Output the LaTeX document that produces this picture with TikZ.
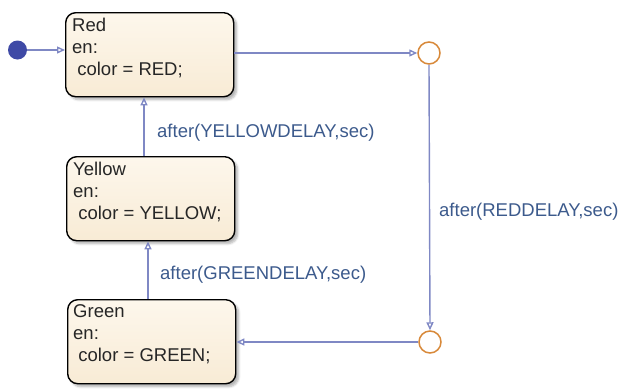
\documentclass[tikz,border=0pt]{standalone}
\usepackage{fontspec}
\setmainfont{Liberation Sans}
\usetikzlibrary{arrows.meta,shadows.blur}
\definecolor{wire}{HTML}{7F88C4}
\definecolor{lbl}{HTML}{3C5A8C}
\definecolor{dotc}{HTML}{3F4AA6}
\definecolor{junc}{HTML}{D8893A}
\definecolor{creamtop}{HTML}{FDF7EC}
\definecolor{creambot}{HTML}{F8EBD5}
\tikzset{
  statebox/.style={draw=black, line width=1.4pt, rounded corners=10pt,
    top color=creamtop, bottom color=creambot,
    blur shadow={shadow xshift=3pt, shadow yshift=-3pt, shadow blur steps=6, shadow opacity=30},
    minimum width=168pt, minimum height=84pt, anchor=north west, inner sep=0pt},
  statetext/.style={anchor=north west, align=left, inner sep=0pt, text=black!85,
    font=\fontsize{18.5}{22}\selectfont},
  wireline/.style={draw=wire, line width=1.4pt, -{Triangle[open, length=8pt, width=7pt]}},
  trlabel/.style={anchor=base west, inner sep=0pt, text=lbl, font=\fontsize{18.5}{22}\selectfont},
  junction/.style={circle, draw=junc, line width=1.5pt, fill=white, minimum size=22pt, inner sep=0pt},
}
\begin{document}
\begin{tikzpicture}[x=1pt,y=1pt]
\useasboundingbox (0,0) rectangle (626,-389);
% states
\node[statebox] (red) at (65,-12) {};
\node[statetext] (redtxt) at (72,-18) {Red\\en:\\ \ color = RED;};
\node[statebox] (yellow) at (66,-156) {};
\node[statetext] (yellowtxt) at (73,-162) {Yellow\\en:\\ \ color = YELLOW;};
\node[statebox] (green) at (67,-299) {};
\node[statetext] (greentxt) at (73,-304) {Green\\en:\\ \ color = GREEN;};
% initial dot
\node[circle, fill=dotc, minimum size=19pt, inner sep=0pt] (init) at (17.5,-50) {};
% junctions
\node[junction] (j1) at (429,-53) {};
\node[junction] (j2) at (430,-342) {};
% transitions
\draw[wireline] (init.east) -- (init.east -| red.west);
\draw[wireline] (red.east |- j1) -- (j1.west);
\draw[wireline] (j1.south) -- (j2.north);
\draw[wireline] (j2.west) -- (green.east |- j2);
\draw[wireline] (yellow.north -| 144,0) -- (red.south -| 144,0);
\draw[wireline] (green.north -| 148,0) -- (yellow.south -| 148,0);
% labels
\node[trlabel] (l1) at (157,-137) {after(YELLOWDELAY,sec)};
\node[trlabel] (l2) at (160,-279) {after(GREENDELAY,sec)};
\node[trlabel] (l3) at (439,-216) {after(REDDELAY,sec)};
\end{tikzpicture}
\end{document}
